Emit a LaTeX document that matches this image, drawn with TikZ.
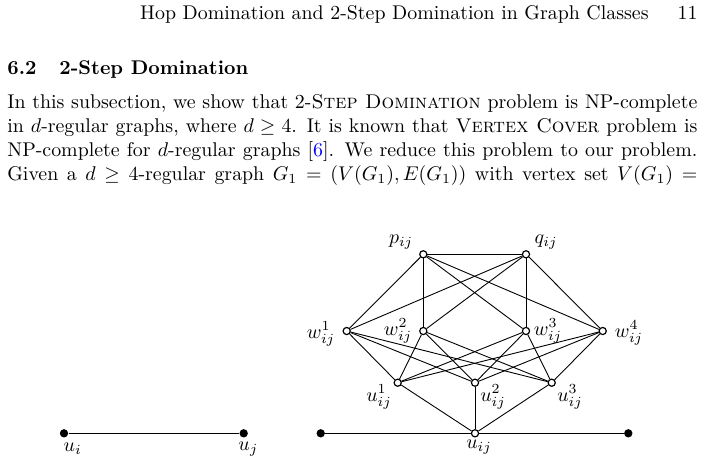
\documentclass[tikz,border=0pt]{standalone}
\usepackage{xcolor}
\begin{document}
\begin{tikzpicture}[x=0.5032pt,y=-0.5032pt,
  vtx/.style={circle,draw,fill=white,line width=0.6pt,inner sep=0pt,minimum size=3.6pt},
  bdot/.style={circle,fill=black,inner sep=0pt,minimum size=4.2pt},
  gedge/.style={line width=0.45pt},
  lbl/.style={inner sep=0pt},
  txt/.style={anchor=base west,inner sep=0pt}]
\useasboundingbox (0,0) rectangle (704,467);
% header
\node[anchor=base east,inner sep=0pt] (hd) at (649,19) {Hop Domination and 2-Step Domination in Graph Classes};
\node[anchor=base east,inner sep=0pt] (pg) at (698,19) {11};
% section
\node[txt] (secnum) at (7,74.5) {\bfseries 6.2};
\node[txt] (sec) at (59,74.5) {\bfseries 2-Step Domination};
% paragraph
\node[txt] (l1) at (7,108.5) {\makebox[347.2pt][s]{In this subsection, we show that 2-\textsc{Step Domination} problem is NP-complete}};
\node[txt] (l2) at (7,132.5) {\makebox[347.2pt][s]{in $d$-regular graphs, where $d \geq 4$. It is known that \textsc{Vertex Cover} problem is}};
\node[txt] (l3) at (7,156.5) {\makebox[347.2pt][s]{NP-complete for $d$-regular graphs [\textcolor{blue}{6}]. We reduce this problem to our problem.}};
\node[txt] (l4) at (7,180.5) {\makebox[347.2pt][s]{Given a $d \geq 4$-regular graph $G_1 = (V(G_1), E(G_1))$ with vertex set $V(G_1) =$}};
% left graph
\node[bdot] (ui) at (64,433.3) {};
\node[bdot] (uj) at (243.7,433.3) {};
\draw[gedge] (ui) -- (uj);
\node[lbl] (lui) at (72.7,449) {$u_i$};
\node[lbl] (luj) at (248.3,449) {$u_j$};
% gadget
\node[vtx] (p) at (423.3,254.3) {};
\node[vtx] (q) at (526,254.3) {};
\node[vtx] (w1) at (346.7,331) {};
\node[vtx] (w2) at (423.3,331) {};
\node[vtx] (w3) at (526,331) {};
\node[vtx] (w4) at (602.7,331) {};
\node[vtx] (u1) at (397.7,382.7) {};
\node[vtx] (u2) at (475,382.7) {};
\node[vtx] (u3) at (551.7,382.7) {};
\node[vtx] (uij) at (475,433.3) {};
\node[bdot] (L) at (320.7,433.3) {};
\node[bdot] (R) at (628.3,433.3) {};
\draw[gedge] (p) -- (q);
\foreach \a in {p,q} {\foreach \b in {w1,w2,w3,w4} {\draw[gedge] (\a) -- (\b);}}
\foreach \a in {w1,w2,w3,w4} {\foreach \b in {u1,u2,u3} {\draw[gedge] (\a) -- (\b);}}
\foreach \b in {u1,u2,u3} {\draw[gedge] (\b) -- (uij);}
\draw[gedge] (L) -- (uij) -- (R);
% labels
\node[lbl] (lp) at (401,242) {$p_{ij}$};
\node[lbl] (lq) at (546,242) {$q_{ij}$};
\node[lbl] (lw1) at (321,334) {$w_{ij}^1$};
\node[lbl] (lw2) at (398,331) {$w_{ij}^2$};
\node[lbl] (lw3) at (548,331) {$w_{ij}^3$};
\node[lbl] (lw4) at (629,333) {$w_{ij}^4$};
\node[lbl] (lu1) at (379,397) {$u_{ij}^1$};
\node[lbl] (lu2) at (493,397) {$u_{ij}^2$};
\node[lbl] (lu3) at (570,397) {$u_{ij}^3$};
\node[lbl] (luij) at (479,447) {$u_{ij}$};
\end{tikzpicture}
\end{document}
